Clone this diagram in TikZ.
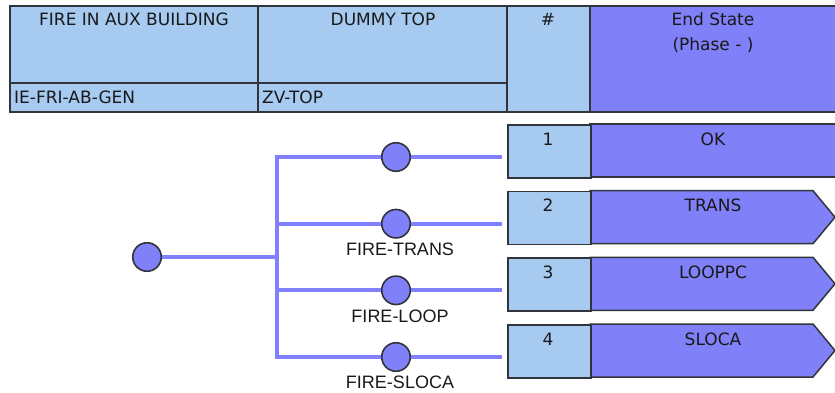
\documentclass[tikz,border=0pt]{standalone}
\usepackage{fontspec}
\setmainfont{DejaVu Sans}
\newfontfamily\arialf{Liberation Sans}
\definecolor{hdrblue}{RGB}{166,202,240}
\definecolor{esblue}{RGB}{128,128,248}
\definecolor{treeline}{RGB}{128,128,255}
\definecolor{edgegray}{RGB}{50,52,60}
\tikzset{
  hdrtext/.style={inner sep=0pt, anchor=base, font=\fontsize{17}{20}\selectfont, text=black!90},
  hdrleft/.style={hdrtext, anchor=base west},
  branch/.style={draw=treeline, line width=4pt},
  event/.style={circle, fill=esblue, draw=edgegray, line width=1.6pt, minimum size=28.5pt, inner sep=0pt},
  evlabel/.style={inner sep=0pt, anchor=base, font=\arialf\fontsize{18}{21}\selectfont, text=black!90},
  numcell/.style={draw=edgegray, line width=1.5pt, fill=hdrblue, minimum width=83pt, minimum height=53pt, inner sep=0pt},
  esshape/.style={draw=edgegray, line width=1.5pt, fill=esblue},
  frame/.style={draw=edgegray, line width=1.8pt}
}
\begin{document}
\begin{tikzpicture}[x=1pt,y=-1pt]
\useasboundingbox (0,0) rectangle (835,392);
% header
\fill[hdrblue] (10,6) rectangle (590,112);
\fill[esblue] (590,6) rectangle (836,112);
\draw[frame] (836,6) -- (10,6) -- (10,112) -- (836,112);
\draw[frame] (258,6) -- (258,112);
\draw[frame] (507,6) -- (507,112);
\draw[frame] (590,6) -- (590,112);
\draw[frame] (10,83) -- (507,83);
\node[hdrtext] (h1) at (134,25) {FIRE IN AUX BUILDING};
\node[hdrtext] (h2) at (383,25) {DUMMY TOP};
\node[hdrtext] (h3) at (548,25) {\#};
\node[hdrtext] (h4) at (713,25) {End State};
\node[hdrtext] (h5) at (713,50) {(Phase - )};
\node[hdrleft] (h6) at (14,103) {IE-FRI-AB-GEN};
\node[hdrleft] (h7) at (262,103) {ZV-TOP};
% tree
\node[event] (init) at (147,257) {};
\coordinate (j0) at (277,257);
\coordinate (jt) at (277,157);
\coordinate (jb) at (277,357);
\draw[branch] (init) -- (j0);
\draw[branch, line cap=rect] (jt) -- (jb);
\foreach \i/\y in {1/157,2/223.7,3/290.3,4/357}{
  \coordinate (b\i) at (277,\y);
  \node[event] (c\i) at (396,\y) {};
  \coordinate (t\i) at (502,\y);
  \draw[branch] (b\i) -- (c\i);
  \draw[branch] (c\i) -- (t\i);
}
\node[evlabel] (l2) at (400,255) {FIRE-TRANS};
\node[evlabel] (l3) at (400,322) {FIRE-LOOP};
\node[evlabel] (l4) at (400,388.5) {FIRE-SLOCA};
% end states
\foreach \i/\top/\lab in {1/124/OK,2/190.7/TRANS,3/257.3/LOOPPC,4/324/SLOCA}{
  \pgfmathsetmacro{\bot}{\top+53}
  \pgfmathsetmacro{\mid}{\top+26.5}
  \ifnum\i=1
    \draw[esshape] (590,\top) -- (837,\top) -- (837,\bot) -- (590,\bot) -- cycle;
  \else
    \draw[esshape] (590,\top) -- (813,\top) -- (835,\mid) -- (813,\bot) -- (590,\bot) -- cycle;
  \fi
  \node[numcell, anchor=north west] (n\i) at (507,\top) {};
  \node[hdrtext] (k\i) at (548,\top+21) {\i};
  \node[hdrtext] (e\i) at (713,\top+21) {\lab};
}
\end{tikzpicture}
\end{document}
